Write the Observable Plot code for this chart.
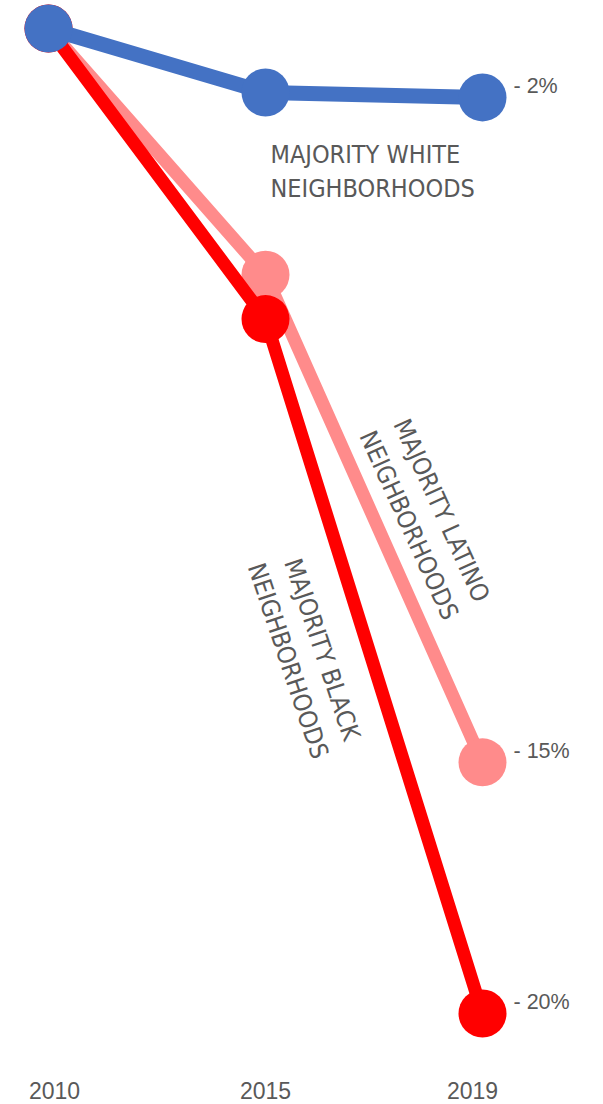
<!DOCTYPE html>
<html>
<head>
<meta charset="utf-8">
<script src="https://cdn.jsdelivr.net/npm/d3@7"></script>
<script src="https://cdn.jsdelivr.net/npm/@observablehq/plot@0.6"></script>
<style>
  html, body { margin: 0; padding: 0; background: #fff; }
  #chart svg { display: block; }
</style>
</head>
<body>
<div id="chart"></div>
<script>
// ---- data (percent change since 2010) ----
const years = ["2010", "2015", "2019"];
const whiteValues  = [0, -1.3, -1.4];
const latinoValues = [0, -5.0, -14.9];
const blackValues  = [0, -5.9, -20.0];
const seriesKeys   = ["latino", "black", "white"];
const seriesLabels = ["MAJORITY LATINO\nNEIGHBORHOODS", "MAJORITY BLACK\nNEIGHBORHOODS", "MAJORITY WHITE\nNEIGHBORHOODS"];
const endLabels    = ["- 15%", "- 20%", "- 2%"];

const valuesByKey = {latino: latinoValues, black: blackValues, white: whiteValues};
const colors = {latino: "#FF8B8B", black: "#FF0000", white: "#4472C4"};
const widths = {latino: 13, black: 13, white: 15};

const rows = seriesKeys.flatMap(k => valuesByKey[k].map((v, i) => ({key: k, i, year: years[i], value: v})));
const lastRows = seriesKeys.map((k, s) => ({key: k, i: years.length - 1, value: valuesByKey[k][years.length - 1], label: endLabels[s]}));
const midRow = k => ({i: 1.5, value: (valuesByKey[k][1] + valuesByKey[k][2]) / 2, label: seriesLabels[seriesKeys.indexOf(k)]});

const textColor = "#595959";
const sans = "'Liberation Sans', Arial, sans-serif";
const narrow = "'Liberation Sans Narrow', 'Arial Narrow', 'DejaVu Sans Condensed', sans-serif";

const marks = [];
for (const k of seriesKeys) {
  const data = rows.filter(d => d.key === k);
  marks.push(Plot.line(data, {x: "i", y: "value", stroke: colors[k], strokeWidth: widths[k], strokeLinejoin: "round"}));
  marks.push(Plot.dot(data, {x: "i", y: "value", r: 24, fill: colors[k]}));
}
marks.push(Plot.text(lastRows, {
  x: "i", y: "value", text: "label", textAnchor: "start", dx: 31, dy: -11,
  fontSize: 21.5, fill: textColor, fontFamily: sans
}));
// series labels
marks.push(Plot.text([{i: 1, value: whiteValues[1], label: seriesLabels[2]}], {
  x: "i", y: "value", text: "label", textAnchor: "start", lineAnchor: "middle", lineHeight: 1.36,
  dx: 5, dy: 77, fontSize: 25, fill: textColor, fontFamily: narrow
}));
marks.push(Plot.text([midRow("latino")], {
  x: "i", y: "value", text: "label", textAnchor: "middle", lineAnchor: "middle", lineHeight: 1.44,
  rotate: 65.6, dx: 54, dy: -2, fontSize: 25, fill: textColor, fontFamily: narrow
}));
marks.push(Plot.text([midRow("black")], {
  x: "i", y: "value", text: "label", textAnchor: "middle", lineAnchor: "middle", lineHeight: 1.44,
  rotate: 71.5, dx: -66, dy: -12, fontSize: 25, fill: textColor, fontFamily: narrow
}));
// year axis labels
const yearShift = [6, 0, -10];
years.forEach((y, i) => {
  marks.push(Plot.axisX([i], {
    tickFormat: () => y, tickSize: 0, tickPadding: 69, fontSize: 23,
    fill: textColor, fontFamily: sans, dx: yearShift[i], label: null
  }));
});

const chart = Plot.plot({
  width: 603,
  height: 1104,
  marginLeft: 48,
  marginRight: 121,
  marginTop: 28,
  marginBottom: 91,
  style: {background: "#fff", overflow: "visible"},
  x: {type: "linear", domain: [0, years.length - 1]},
  y: {domain: [-20, 0], axis: null},
  marks
});
document.getElementById("chart").appendChild(chart);
</script>
</body>
</html>
